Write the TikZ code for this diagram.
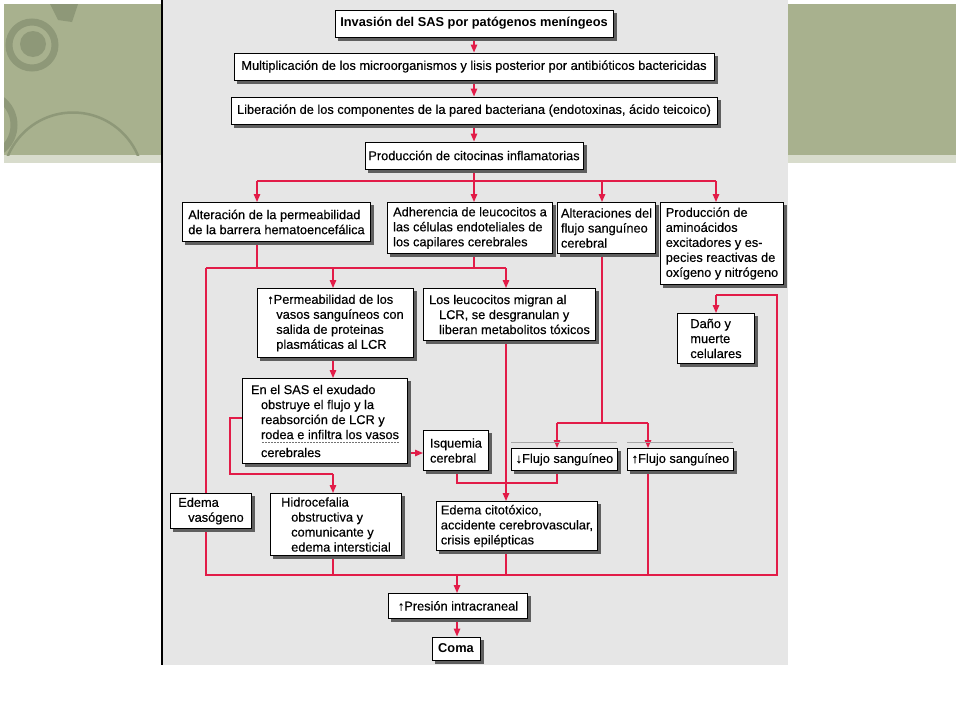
\documentclass[tikz,border=0pt]{standalone}
\usepackage{fontspec}
\setmainfont{Liberation Sans}
\newfontfamily\boxfont{Liberation Sans}[FakeBold=0.35]
\usetikzlibrary{arrows.meta}
\definecolor{flow}{RGB}{226,28,72}
\definecolor{diagbg}{RGB}{230,230,230}
\definecolor{banner}{RGB}{168,177,142}
\definecolor{bannerdark}{RGB}{142,152,120}
\definecolor{strip}{RGB}{216,220,204}
\definecolor{shadowc}{RGB}{95,95,95}
\pgfdeclarelayer{back}
\pgfdeclarelayer{lines}
\pgfdeclarelayer{shad}
\pgfsetlayers{back,lines,shad,main}
\tikzset{
  box/.style={draw=black, line width=1pt, fill=white,
    font=\boxfont\fontsize{12.8}{15}\selectfont, align=left, inner sep=2pt, anchor=north west},
  boldbox/.style={box, anchor=center, font=\rmfamily\bfseries\fontsize{12.8}{15}\selectfont},
  flowline/.style={draw=flow, line width=1.4pt},
  arr/.style={flowline, -{Triangle[length=8pt,width=6.5pt]}},
}
\begin{document}
\begin{tikzpicture}[x=1pt,y=-1pt]
\useasboundingbox (0,0) rectangle (960,720);
\begin{pgfonlayer}{back}
  \fill[white] (0,0) rectangle (960,720);
  \fill[banner] (4,4) rectangle (162,155);
  \fill[strip] (4,155) rectangle (162,163);
  \fill[banner] (788,4) rectangle (956,155);
  \fill[strip] (788,155) rectangle (956,163);
  \begin{scope}
    \clip (4,4) rectangle (162,155);
    \draw[bannerdark, line width=7pt] (32,45) circle (23);
    \fill[bannerdark] (33,44) circle (13);
    \draw[bannerdark, line width=7pt] (-18,125) circle (32);
    \draw[bannerdark, line width=2.5pt] (73,183) circle (70.5);
    \fill[bannerdark] (50,4) -- (78,4) -- (72,22) -- (58,20) -- cycle;
  \end{scope}
  \fill[diagbg] (162,0) rectangle (788,665);
  \draw[black, line width=1.5pt] (162,0) -- (162,665);
\end{pgfonlayer}

% nodes
\node[boldbox, minimum width=278pt, minimum height=27pt] (b1) at (474,23.5) {Invasión del SAS por patógenos meníngeos};
\node[box, anchor=center, minimum width=480pt, minimum height=27pt] (b2) at (474,66.5) {Multiplicación de los microorganismos y lisis posterior por antibióticos bactericidas};
\node[box, anchor=center, minimum width=486pt, minimum height=27pt] (b3) at (474,110.5) {Liberación de los componentes de la pared bacteriana (endotoxinas, ácido teicoico)};
\node[box, anchor=center, minimum width=218pt, minimum height=27pt] (b4) at (474,155.5) {Producción de citocinas inflamatorias};

\node[box, minimum width=188pt, minimum height=39pt] (b5) at (182,202) {Alteración de la permeabilidad\\de la barrera hematoencefálica};
\node[box, minimum width=165pt, minimum height=51pt] (b6) at (387,202) {Adherencia de leucocitos a\\las células endoteliales de\\los capilares cerebrales};
\node[box, minimum width=98pt, minimum height=51pt] (b7) at (557,202) {Alteraciones del\\flujo sanguíneo\\cerebral};
\node[box, minimum width=123pt, minimum height=82pt] (b8) at (660,202) {Producción de\\aminoácidos\\excitadores y es-\\pecies reactivas de\\oxígeno y nitrógeno};

\node[box, minimum width=156pt, minimum height=69pt] (b9) at (257,288) {↑Permeabilidad de los\\\hspace*{9pt}vasos sanguíneos con\\\hspace*{9pt}salida de proteinas\\\hspace*{9pt}plasmáticas al LCR};
\node[box, minimum width=172pt, minimum height=52pt] (b10) at (423,288) {Los leucocitos migran al\\\hspace*{10pt}LCR, se desgranulan y\\\hspace*{10pt}liberan metabolitos tóxicos};
\node[box, minimum width=77pt, minimum height=50pt] (b18) at (677,313) {Daño y\\muerte\\celulares};

\node[box, minimum width=165pt, minimum height=85pt] (b11) at (242,378) {En el SAS el exudado\\\hspace*{10pt}obstruye el flujo y la\\\hspace*{10pt}reabsorción de LCR y\\\hspace*{10pt}rodea e infiltra los vasos\\[3pt]\hspace*{10pt}cerebrales};
\node[box, minimum width=65pt, minimum height=40pt] (b14) at (423,430) {Isquemia\\cerebral};
\node[box, minimum width=106pt, minimum height=22pt] (b15) at (511,448) {↓Flujo sanguíneo};
\node[box, minimum width=106pt, minimum height=22pt] (b16) at (627,448) {↑Flujo sanguíneo};

\node[box, minimum width=81pt, minimum height=35pt] (b13) at (170,493) {Edema\\\hspace*{10pt}vasógeno};
\node[box, minimum width=131pt, minimum height=62pt] (b12) at (270,493) {Hidrocefalia\\\hspace*{10pt}obstructiva y\\\hspace*{10pt}comunicante y\\\hspace*{10pt}edema intersticial};
\node[box, minimum width=161pt, minimum height=49pt] (b17) at (436,501) {Edema citotóxico,\\accidente cerebrovascular,\\crisis epilépticas};

\node[box, minimum width=139pt, minimum height=25pt] (b19) at (388,593) {↑Presión intracraneal};
\node[boldbox, minimum width=48pt, minimum height=23pt] (b20) at (456,648.5) {Coma};

% box shadows
\begin{pgfonlayer}{shad}
  \foreach \n in {1,...,20}
    \fill[shadowc] ([shift={(3pt,-3pt)}]b\n.south west) rectangle ([shift={(3pt,-3pt)}]b\n.north east);
\end{pgfonlayer}

% coordinates
\coordinate (busA) at (474,181);
\coordinate (jA1) at (257,181);
\coordinate (jA3) at (602,181);
\coordinate (jA4) at (716,181);
\coordinate (bB0) at (206,268);
\coordinate (bB1) at (257,268);
\coordinate (bB2) at (333,268);
\coordinate (bB3) at (474,268);
\coordinate (bB4) at (506,268);
\coordinate (bC0) at (206,575);
\coordinate (bC1) at (333,575);
\coordinate (bCm) at (457,575);
\coordinate (bC2) at (506,575);
\coordinate (bC3) at (648,575);
\coordinate (bC4) at (777,575);
\coordinate (rc) at (777,295);
\coordinate (rd) at (716,295);
\coordinate (lb1) at (230,418);
\coordinate (lb2) at (230,474);
\coordinate (lb3) at (333,474);
\coordinate (ya) at (0,453);
\coordinate (ic1) at (457,483);
\coordinate (ic2) at (557,483);
\coordinate (fs0) at (602,423);
\coordinate (fs1) at (557,423);
\coordinate (fs2) at (648,423);

\begin{pgfonlayer}{lines}
  \draw[arr] (b1.south) -- (b2.north);
  \draw[arr] (b2.south) -- (b3.north);
  \draw[arr] (b3.south) -- (b4.north);
  \draw[flowline] (b4.south) -- (busA);
  \draw[flowline] (jA1) -- (jA4);
  \draw[arr] (jA1) -- (jA1 |- b5.north);
  \draw[arr] (busA) -- (busA |- b6.north);
  \draw[arr] (jA3) -- (jA3 |- b7.north);
  \draw[arr] (jA4) -- (jA4 |- b8.north);
  \draw[flowline] (bB1 |- b5.south) -- (bB1);
  \draw[flowline] (bB3 |- b6.south) -- (bB3);
  \draw[flowline] (bB0) -- (bB4);
  \draw[arr] (bB2) -- (bB2 |- b9.north);
  \draw[arr] (bB4) -- (bB4 |- b10.north);
  \draw[arr] (bB2 |- b9.south) -- (bB2 |- b11.north);
  \draw[flowline] (b11.west |- lb1) -- (lb1) -- (lb2) -- (lb3);
  \draw[arr] (lb3) -- (lb3 |- b12.north);
  \draw[arr] (b11.east |- ya) -- (b14.west |- ya);
  \draw[flowline] (ic1 |- b14.south) -- (ic1) -- (ic2) -- (ic2 |- b15.south);
  \draw[flowline] (fs0 |- b7.south) -- (fs0);
  \draw[flowline] (fs1) -- (fs2);
  \draw[arr] (fs1) -- (fs1 |- b15.north);
  \draw[arr] (fs2) -- (fs2 |- b16.north);
  \draw[arr] (bB4 |- b10.south) -- (bB4 |- b17.north);
  \draw[flowline] (bB0) -- (bC0) -- (bC4) -- (rc) -- (rd);
  \draw[arr] (rd) -- (rd |- b18.north);
  \draw[flowline] (bC1 |- b12.south) -- (bC1);
  \draw[flowline] (bC2 |- b17.south) -- (bC2);
  \draw[flowline] (bC3 |- b16.south) -- (bC3);
  \draw[arr] (bCm) -- (bCm |- b19.north);
  \draw[arr] (b19.south -| bCm) -- (bCm |- b20.north);
\end{pgfonlayer}

% scan lines
\draw[gray!70, line width=0.5pt] (511,442) -- (617,442);
\draw[gray!70, line width=0.5pt] (627,442) -- (733,442);
\draw[black!55, line width=0.5pt, dash pattern=on 2pt off 1pt] (262,442) -- (399,442);
\end{tikzpicture}
\end{document}
